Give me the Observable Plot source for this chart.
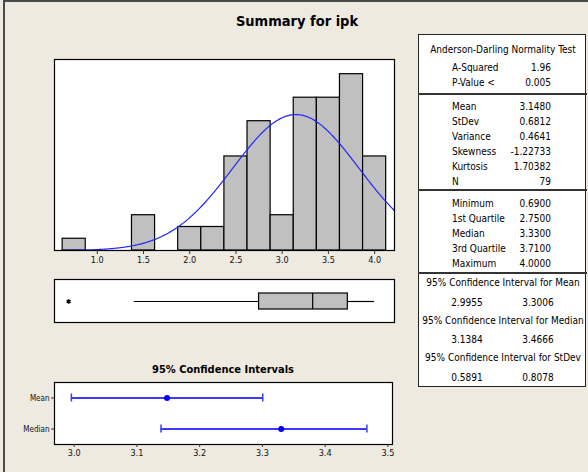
<!DOCTYPE html>
<html><head><meta charset="utf-8">
<script src="https://cdn.jsdelivr.net/npm/d3@7"></script>
<script src="https://cdn.jsdelivr.net/npm/@observablehq/plot@0.6"></script>
<style>
html,body{margin:0;padding:0;background:#EEEAE0;}
#root{position:relative;width:588px;height:472px;overflow:hidden;background:#EEEAE0;
  font-family:"Liberation Sans Narrow","DejaVu Sans Condensed",sans-serif;color:#000;}
.abs{position:absolute;}
.t{position:absolute;white-space:nowrap;line-height:14px;font-size:10px;}
</style></head><body><div id="root"></div>
<script>
// ---------------- data ----------------
const binCenters = [0.75, 1.0, 1.25, 1.5, 1.75, 2.0, 2.25, 2.5, 2.75, 3.0, 3.25, 3.5, 3.75, 4.0];
const binCounts  = [1,    0,   0,    3,   0,    2,   2,    8,   11,   3,   13,   13,  15,   8];
const binWidth = 0.25;
const histTicks = [1.0, 1.5, 2.0, 2.5, 3.0, 3.5, 4.0];

const adTitle = "Anderson-Darling Normality Test";
const adLabels = ["A-Squared", "P-Value <"];
const adValues = ["1.96", "0.005"];
const momentLabels = ["Mean", "StDev", "Variance", "Skewness", "Kurtosis", "N"];
const momentValues = ["3.1480", "0.6812", "0.4641", "-1.22733", "1.70382", "79"];
const quantLabels = ["Minimum", "1st Quartile", "Median", "3rd Quartile", "Maximum"];
const quantValues = ["0.6900", "2.7500", "3.3300", "3.7100", "4.0000"];
const ciTitles = ["95% Confidence Interval for Mean", "95% Confidence Interval for Median", "95% Confidence Interval for StDev"];
const ciLowerText = ["2.9955", "3.1384", "0.5891"];
const ciUpperText = ["3.3006", "3.4666", "0.8078"];

const boxLabel = ["ipk"];
const whiskerLow = [1.40], q1 = [2.75], medianV = [3.33], q3 = [3.71], whiskerHigh = [4.00];
const outliers = [0.69];

const ciRows = ["Mean", "Median"];
const ciCenter = [3.148, 3.33];
const ciLo = [2.9955, 3.1384];
const ciHi = [3.3006, 3.4666];
const ciTicks = [3.0, 3.1, 3.2, 3.3, 3.4, 3.5];

// ---------------- derived tables ----------------
const bins = binCenters.map((c, i) => ({x1: c - binWidth / 2, x2: c + binWidth / 2, count: binCounts[i]}))
  .filter(d => d.count > 0);
const nObs = +momentValues[5], mu = +momentValues[0], sd = +momentValues[1];
const histDomain = [0.537, 4.215];
// fitted normal density (from the chart's Mean / StDev), scaled to counts
const curve = d3.range(0.625, histDomain[1] + 1e-9, 0.01).map(x => ({
  x, y: nObs * binWidth * Math.exp(-0.5 * ((x - mu) / sd) ** 2) / (sd * Math.sqrt(2 * Math.PI))
}));
const boxRow = [{k: boxLabel[0], lo: whiskerLow[0], q1: q1[0], med: medianV[0], q3: q3[0], hi: whiskerHigh[0]}];
const whiskers = [{k: boxLabel[0], a: whiskerLow[0], b: q1[0]}, {k: boxLabel[0], a: q3[0], b: whiskerHigh[0]}];
const ciData = ciRows.map((r, i) => ({r, c: ciCenter[i], lo: ciLo[i], hi: ciHi[i]}));

const root = document.getElementById("root");
const axisFont = '"Liberation Sans Narrow","DejaVu Sans Condensed",sans-serif';

// outer window edge
const edge = document.createElement("div");
edge.className = "abs";
Object.assign(edge.style, {left: "3px", top: "0px", width: "600px", height: "500px",
  borderLeft: "2px solid #4a4a4a", borderTop: "2px solid #4a4a4a"});
root.appendChild(edge);

// title
const title = document.createElement("div");
title.className = "abs";
title.textContent = "Summary for ipk";
Object.assign(title.style, {left: "0px", width: "594px", top: "12px", textAlign: "center",
  fontFamily: '"DejaVu Sans Condensed","DejaVu Sans",sans-serif', fontWeight: "bold", fontSize: "14.5px", lineHeight: "18px"});
root.appendChild(title);

function place(node, left, top) {
  node.style.position = "absolute";
  node.style.left = left + "px";
  node.style.top = top + "px";
  root.appendChild(node);
}

// ---------------- histogram ----------------
const hist = Plot.plot({
  width: 360, height: 224, marginLeft: 10, marginRight: 10, marginTop: 10, marginBottom: 23,
  style: {background: "transparent", fontFamily: axisFont, fontSize: "9px", color: "#111"},
  x: {domain: histDomain},
  y: {domain: [0, 16.25], axis: null},
  marks: [
    Plot.frame({fill: "white", stroke: "none"}),
    Plot.rect(bins, {x1: "x1", x2: "x2", y1: 0, y2: "count", fill: "#C0C0C0", stroke: "#000", strokeWidth: 1.2}),
    Plot.line(curve, {x: "x", y: "y", stroke: "#2424ff", strokeWidth: 1.2}),
    Plot.frame({stroke: "#000", strokeWidth: 1.2}),
    Plot.axisX(histTicks, {tickFormat: d3.format(".1f"), tickSize: 4, tickPadding: 2, label: null, stroke: "#333"})
  ]
});
place(hist, 44, 49);

// ---------------- boxplot ----------------
const box = Plot.plot({
  width: 360, height: 63, marginLeft: 10, marginRight: 10, marginTop: 10, marginBottom: 10,
  style: {background: "transparent"},
  x: {domain: histDomain, axis: null},
  y: {domain: boxLabel, padding: 0.45, axis: null},
  marks: [
    Plot.frame({fill: "white", stroke: "none"}),
    Plot.ruleY(whiskers, {y: "k", x1: "a", x2: "b", stroke: "#000", strokeWidth: 1.2}),
    Plot.barX(boxRow, {y: "k", x1: "q1", x2: "q3", fill: "#C0C0C0", stroke: "#000", strokeWidth: 1.2}),
    Plot.tickX(boxRow, {y: "k", x: "med", stroke: "#000", strokeWidth: 1.2}),
    Plot.dot(outliers, {x: d => d, y: () => boxLabel[0], symbol: "asterisk", r: 2.2, stroke: "#000", strokeWidth: 1.6}),
    Plot.frame({stroke: "#000", strokeWidth: 1.2})
  ]
});
place(box, 44, 269);

// ---------------- CI title ----------------
const ciT = document.createElement("div");
ciT.className = "abs";
ciT.textContent = "95% Confidence Intervals";
Object.assign(ciT.style, {left: "123px", width: "200px", top: "362px", textAlign: "center",
  fontFamily: '"DejaVu Sans Condensed","DejaVu Sans",sans-serif', fontWeight: "bold", fontSize: "11px", lineHeight: "16px"});
root.appendChild(ciT);

// ---------------- CI plot ----------------
const ci = Plot.plot({
  width: 402, height: 96, marginLeft: 54, marginRight: 10, marginTop: 10, marginBottom: 24,
  style: {background: "transparent", fontFamily: axisFont, fontSize: "9px", color: "#111"},
  x: {domain: [2.9686, 3.5074]},
  y: {type: "band", domain: ciRows, padding: 0},
  marks: [
    Plot.frame({fill: "white", stroke: "none"}),
    Plot.ruleY(ciData, {y: "r", x1: "lo", x2: "hi", stroke: "#3b3bff", strokeWidth: 1.8}),
    Plot.tickX(ciData, {y: "r", x: "lo", stroke: "#3b3bff", strokeWidth: 1.5, insetTop: 11.5, insetBottom: 11.5}),
    Plot.tickX(ciData, {y: "r", x: "hi", stroke: "#3b3bff", strokeWidth: 1.5, insetTop: 11.5, insetBottom: 11.5}),
    Plot.dot(ciData, {y: "r", x: "c", r: 3, fill: "#0000ff", stroke: "none"}),
    Plot.frame({stroke: "#000", strokeWidth: 1.2}),
    Plot.axisX(ciTicks, {tickFormat: d3.format(".1f"), tickSize: 3, tickPadding: 2, label: null, stroke: "#333"}),
    Plot.axisY(ciRows, {tickSize: 3, tickPadding: 2, label: null, fontSize: 8, stroke: "#333"})
  ]
});
place(ci, 0, 372);

// ---------------- statistics table ----------------
const tbl = document.createElement("div");
tbl.className = "abs";
Object.assign(tbl.style, {left: "418px", top: "34px", width: "166px", height: "351px",
  background: "white", border: "1.5px solid #222"});
root.appendChild(tbl);

function sep(y) {
  const s = document.createElement("div");
  s.className = "abs";
  Object.assign(s.style, {left: "418px", width: "169px", top: (y - 1) + "px", height: "2px", background: "#333"});
  root.appendChild(s);
}
function txt(s, x, y, align) {
  const d = document.createElement("div");
  d.className = "t";
  d.textContent = s;
  d.style.top = (y - 7) + "px";
  if (align === "left") d.style.left = x + "px";
  else if (align === "right") d.style.right = (588 - x) + "px";
  else { d.style.left = (x - 100) + "px"; d.style.width = "200px"; d.style.textAlign = "center"; }
  root.appendChild(d);
}
const labX = 452, valX = 551;
txt(adTitle, 503, 49.5, "center");
adLabels.forEach((l, i) => { txt(l, labX, 67.5 + i * 15.7, "left"); txt(adValues[i], valX, 67.5 + i * 15.7, "right"); });
sep(93.5);
momentLabels.forEach((l, i) => { txt(l, labX, 106.5 + i * 15.05, "left"); txt(momentValues[i], valX, 106.5 + i * 15.05, "right"); });
sep(189.5);
quantLabels.forEach((l, i) => { txt(l, labX, 204.3 + i * 14.9, "left"); txt(quantValues[i], valX, 204.3 + i * 14.9, "right"); });
sep(272.5);
ciTitles.forEach((t, i) => {
  const y0 = 283.3 + i * 37.5;
  txt(t, 503, y0, "center");
  txt(ciLowerText[i], 467, y0 + 19.2, "center");
  txt(ciUpperText[i], 538, y0 + 19.2, "center");
});
</script></body></html>
